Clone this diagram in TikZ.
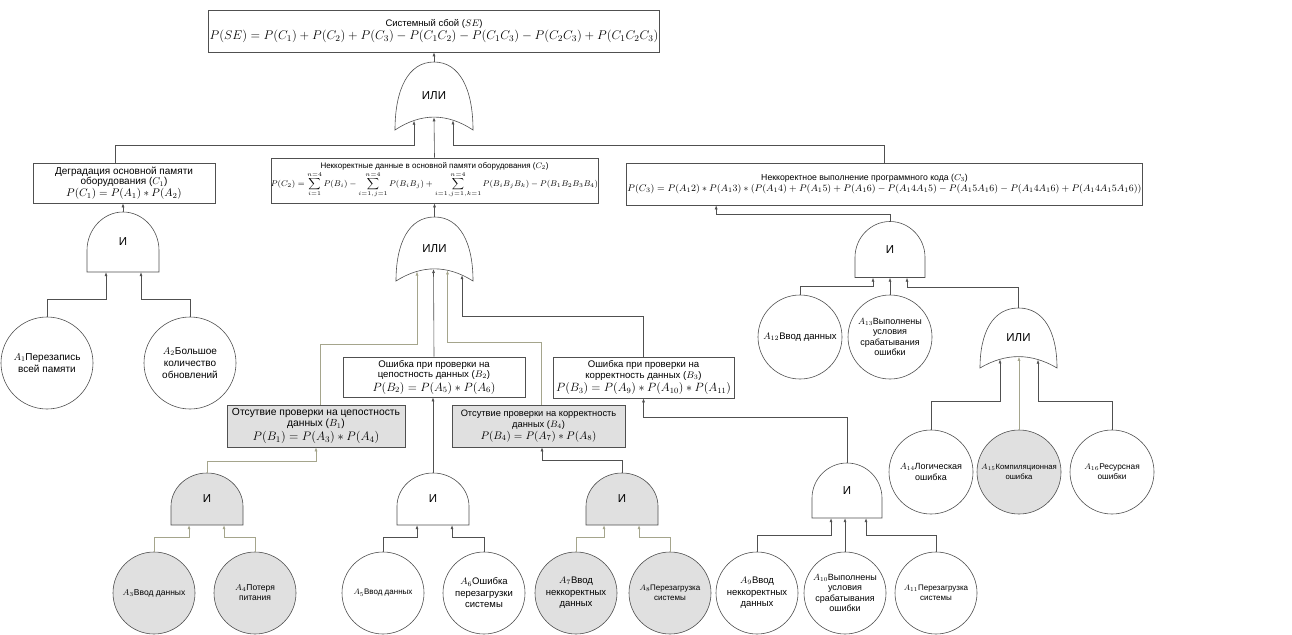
\RequirePackage{fix-cm}
\documentclass[tikz,border=0pt]{standalone}
\usepackage{amsmath}
\usepackage[no-math]{fontspec}
\setmainfont{Liberation Sans}
\usetikzlibrary{calc,arrows.meta}

\definecolor{edge}{RGB}{80,80,80}
\definecolor{paleedge}{RGB}{165,165,140}
\definecolor{shade}{RGB}{224,224,224}

\tikzset{
  every node/.append style={font=\fontsize{8.5}{10}\selectfont},
  box/.style={draw=edge, fill=white, line width=.6pt, align=center, inner sep=1pt},
  greybox/.style={box, fill=shade},
  event/.style={circle, draw=edge, fill=white, line width=.6pt, align=center, minimum size=82pt, inner sep=0pt},
  greyevent/.style={event, fill=shade},
  gate/.style={inner sep=0pt, font=\fontsize{11.5}{12}\selectfont},
  gateline/.style={draw=edge, line width=.6pt},
  link/.style={->, draw=edge, line width=.6pt},
  palelink/.style={->, draw=paleedge, line width=.6pt},
  pics/andshape/.style n args={3}{code={
    \filldraw[gateline, fill=#3] ({-#1/2},{-#2/2}) -- ({-#1/2},{-.14*#2})
      .. controls ({-#1/2},{.21*#2}) and ({-.276*#1},{#2/2}) .. (0,{#2/2})
      .. controls ({.276*#1},{#2/2}) and ({#1/2},{.21*#2}) .. ({#1/2},{-.14*#2})
      -- ({#1/2},{-#2/2}) -- cycle;}},
  pics/orshape/.style n args={3}{code={
    \filldraw[gateline, fill=#3] ({-#1/2},{-#2/2})
      .. controls ({-#1/2},{.1*#2}) and ({-.33*#1},{#2/2}) .. (0,{#2/2})
      .. controls ({.33*#1},{#2/2}) and ({#1/2},{.1*#2}) .. ({#1/2},{-#2/2})
      .. controls ({#1/6},{-.247*#2}) and ({-#1/6},{-.247*#2}) .. ({-#1/2},{-#2/2}) -- cycle;}},
}

\begin{document}
\begin{tikzpicture}[x=1pt, y=1pt, >={Latex[length=4pt,width=3pt]}]
\useasboundingbox[fill=white] (0,0) rectangle (1292,-634);

% top event
\node[box, minimum width=450pt, minimum height=42pt, font=\fontsize{9.5}{11}\selectfont] (se) at (434,-31)
  {Системный сбой ($SE$)\\
   \fontsize{12.6}{15}\selectfont $P(SE)=P(C_1)+P(C_2)+P(C_3)-P(C_1C_2)-P(C_1C_3)-P(C_2C_3)+P(C_1C_2C_3)$};
\pic at (434,-96) {orshape={78}{68}{white}};
\node[gate, minimum width=78pt, minimum height=68pt] (gse) at (434,-96) {ИЛИ};

% second level
\node[box, minimum width=182pt, minimum height=40pt, font=\fontsize{10}{10.5}\selectfont] (c1) at (124,-183)
  {Деградация основной памяти\\ оборудования ($C_1$)\\[1.5pt]
   \fontsize{11}{13}\selectfont $P(C_1)=P(A_1)*P(A_2)$};
\node[box, minimum width=325pt, minimum height=45pt, inner sep=0pt, font=\fontsize{8}{9}\selectfont] (c2) at (434.5,-180.5)
  {Неккоректные данные в основной памяти оборудования ($C_2$)\\
   \fontsize{8.3}{9}\selectfont $\displaystyle P(C_2)=\sum_{i=1}^{n=4}P(B_i)-\sum_{i=1,j=1}^{n=4}P(B_iB_j)+\sum_{i=1,j=1,k=1}^{n=4}P(B_iB_jB_k)-P(B_1B_2B_3B_4)$};
\node[box, minimum width=515pt, minimum height=42pt, font=\fontsize{8.7}{11}\selectfont] (c3) at (884.5,-184)
  {\fontsize{8.7}{11}\selectfont Неккоректное выполнение программного кода ($C_3$)\hspace*{40pt}\\
   \fontsize{9.6}{13}\selectfont $P(C_3)=P(A_12)*P(A_13)*(P(A_14)+P(A_15)+P(A_16)-P(A_14A_15)-P(A_15A_16)-P(A_14A_16)+P(A_14A_15A_16))$};

\draw[link] ($(c1.north)+(-9,0)$) -- ++(0,17) -| ($(gse.south)+(-20,9.5)$);
\draw[link] (c2.north) -- ($(gse.south)+(0,12.9)$);
\draw[link] (c3.north) -- ++(0,17) -| ($(gse.south)+(19,9.8)$);
\draw[link] (gse.north) -- (se.south);

% C1 branch
\pic at (123,-242) {andshape={72}{60}{white}};
\node[gate, minimum width=72pt, minimum height=60pt] (gc1) at (123,-242) {И};
\node[event, minimum size=92pt, font=\fontsize{10}{12}\selectfont] (a1) at (47,-363) {$A_1$Перезапись\\ всей памяти};
\node[event, minimum size=92pt, font=\fontsize{10}{12}\selectfont] (a2) at (190,-363) {$A_2$Большое\\ количество\\ обновлений};
\draw[link] (gc1.north) -- (gc1.north |- c1.south);
\draw[link] (a1.north) -- ++(0,17) -| ($(gc1.south)+(-17,0)$);
\draw[link] (a2.north) -- ++(0,17) -| ($(gc1.south)+(18,0)$);

% C2 branch
\pic at (434.5,-249) {orshape={77}{64}{white}};
\node[gate, minimum width=77pt, minimum height=64pt] (gc2) at (434.5,-249) {ИЛИ};
\draw[link] (gc2.north) -- (gc2.north |- c2.south);
\node[greybox, minimum width=178pt, minimum height=42pt, font=\fontsize{10.3}{11}\selectfont] (b1) at (316,-426)
  {Отсутвие проверки на цепостность\\ данных ($B_1$)\\[1.5pt]
   \fontsize{12.3}{13.5}\selectfont $P(B_1)=P(A_3)*P(A_4)$};
\node[box, minimum width=182pt, minimum height=40pt, font=\fontsize{9.6}{10.5}\selectfont] (b2) at (434,-377)
  {Ошибка при проверки на\\ цепостность данных ($B_2$)\\[1.5pt]
   \fontsize{12}{13.5}\selectfont $P(B_2)=P(A_5)*P(A_6)$};
\node[box, minimum width=181pt, minimum height=41pt, font=\fontsize{9.6}{10.5}\selectfont] (b3) at (643.5,-377.5)
  {Ошибка при проверки на\\ корректность данных ($B_3$)\\[1.5pt]
   \fontsize{12}{13.5}\selectfont $P(B_3)=P(A_9)*P(A_{10})*P(A_{11})$};
\node[greybox, minimum width=173pt, minimum height=42pt, font=\fontsize{9.3}{10.5}\selectfont] (b4) at (538.5,-426)
  {Отсутвие проверки на корректность\\ данных ($B_4$)\\[1.5pt]
   \fontsize{11}{13}\selectfont $P(B_4)=P(A_7)*P(A_8)$};
\draw[palelink] ($(b1.north)+(4,0)$) -- ++(0,60) -| ($(gc2.south)+(-17.5,9.7)$);
\draw[link] (b2.north) -- ($(gc2.south)+(-1,12.2)$);
\draw[palelink] ($(b4.north)+(2.5,0)$) -- ++(0,62) -| ($(gc2.south)+(13,10.8)$);
\draw[link] (b3.north) -- ++(0,40) -| ($(gc2.south)+(27.5,6)$);

% B1
\pic at (207,-499) {andshape={72}{52}{shade}};
\node[gate, minimum width=72pt, minimum height=52pt] (gb1) at (207,-499) {И};
\node[greyevent] (a3) at (154,-593) {$A_3$Ввод данных};
\node[greyevent] (a4) at (255,-593) {$A_4$Потеря\\ питания};
\draw[palelink] (gb1.north) -- ++(0,12) -| (b1.south);
\draw[palelink] (a3.north) -- ++(0,14) -| ($(gb1.south)+(-18,0)$);
\draw[palelink] (a4.north) -- ++(0,14) -| ($(gb1.south)+(17,0)$);

% B2
\pic at (433,-499) {andshape={72}{52}{white}};
\node[gate, minimum width=72pt, minimum height=52pt] (gb2) at (433,-499) {И};
\node[event, font=\fontsize{8}{10}\selectfont] (a5) at (383,-593) {$A_5$Ввод данных};
\node[event, font=\fontsize{9.5}{11.5}\selectfont] (a6) at (484,-593) {$A_6$Ошибка\\ перезагрузки\\ системы};
\draw[link] (gb2.north) -- (gb2.north |- b2.south);
\draw[link] (a5.north) -- ++(0,14) -| ($(gb2.south)+(-16,0)$);
\draw[link] (a6.north) -- ++(0,14) -| ($(gb2.south)+(19,0)$);

% B4
\pic at (622,-499) {andshape={72}{52}{shade}};
\node[gate, minimum width=72pt, minimum height=52pt] (gb4) at (622,-499) {И};
\node[greyevent, font=\fontsize{9.5}{11.5}\selectfont] (a7) at (576,-593) {$A_7$Ввод\\ неккоректных\\ данных};
\node[greyevent, font=\fontsize{8}{10}\selectfont] (a8) at (670,-593) {$A_8$Перезагрузка\\ системы};
\draw[link] (gb4.north) -- ++(0,13) -| ($(b4.south)+(3.5,0)$);
\draw[palelink] (a7.north) -- ++(0,14) -| ($(gb4.south)+(-18,0)$);
\draw[palelink] (a8.north) -- ++(0,14) -| ($(gb4.south)+(17,0)$);

% B3
\pic at (847,-490.5) {andshape={70}{55}{white}};
\node[gate, minimum width=70pt, minimum height=55pt] (gb3) at (847,-490.5) {И};
\node[event, font=\fontsize{9.5}{11.5}\selectfont] (a9) at (757,-593) {$A_9$Ввод\\ неккоректных\\ данных};
\node[event, font=\fontsize{9}{10.5}\selectfont] (a10) at (845,-593) {$A_{10}$Выполнены\\ условия\\ срабатывания\\ ошибки};
\node[event, font=\fontsize{8}{10}\selectfont] (a11) at (936,-593) {$A_{11}$Перезагрузка\\ системы};
\draw[link] (gb3.north) -- ++(0,46) -| (b3.south);
\draw[link] (a9.north) -- ++(0,16) -| ($(gb3.south)+(-16,0)$);
\draw[link] (a10.north) -- (a10.north |- gb3.south);
\draw[link] (a11.north) -- ++(0,16) -| ($(gb3.south)+(19,0)$);

% C3 branch
\pic at (890,-249.5) {andshape={70}{56}{white}};
\node[gate, minimum width=70pt, minimum height=56pt] (gc3) at (890,-249.5) {И};
\node[event, minimum size=84pt, font=\fontsize{9.5}{11}\selectfont] (a12) at (800,-337) {$A_{12}$Ввод данных};
\node[event, minimum size=84pt, font=\fontsize{9}{10.5}\selectfont] (a13) at (890,-337) {$A_{13}$Выполнены\\ условия\\ срабатывания\\ ошибки};
\pic at (1018.5,-338) {orshape={77}{60}{white}};
\node[gate, minimum width=77pt, minimum height=60pt] (gor) at (1018.5,-338) {ИЛИ};
\draw[link] (gc3.north) -- ++(0,7) -| ($(c3.south west)+(90,0)$);
\draw[link] (a12.north) -- ++(0,8) -| ($(gc3.south)+(-17,0)$);
\draw[link] (a13.north) -- (gc3.south);
\draw[link] (gor.north) -- ++(0,21) -| ($(gc3.south)+(17,0)$);

\node[event, minimum size=84pt, font=\fontsize{9}{11}\selectfont] (a14) at (931,-472) {$A_{14}$Логическая\\ ошибка};
\node[greyevent, minimum size=84pt, font=\fontsize{7.7}{10}\selectfont] (a15) at (1019,-472) {$A_{15}$Компиляционная\\ ошибка};
\node[event, minimum size=84pt, font=\fontsize{8.3}{10}\selectfont] (a16) at (1112,-472) {$A_{16}$Ресурсная\\ ошибки};
\draw[link] (a14.north) -- ++(0,28) -| ($(gor.south)+(-18.5,8.8)$);
\draw[palelink] (a15.north) -- ($(gor.south)+(0.5,11.4)$);
\draw[link] (a16.north) -- ++(0,28) -| ($(gor.south)+(19.5,8.5)$);
\end{tikzpicture}
\end{document}
